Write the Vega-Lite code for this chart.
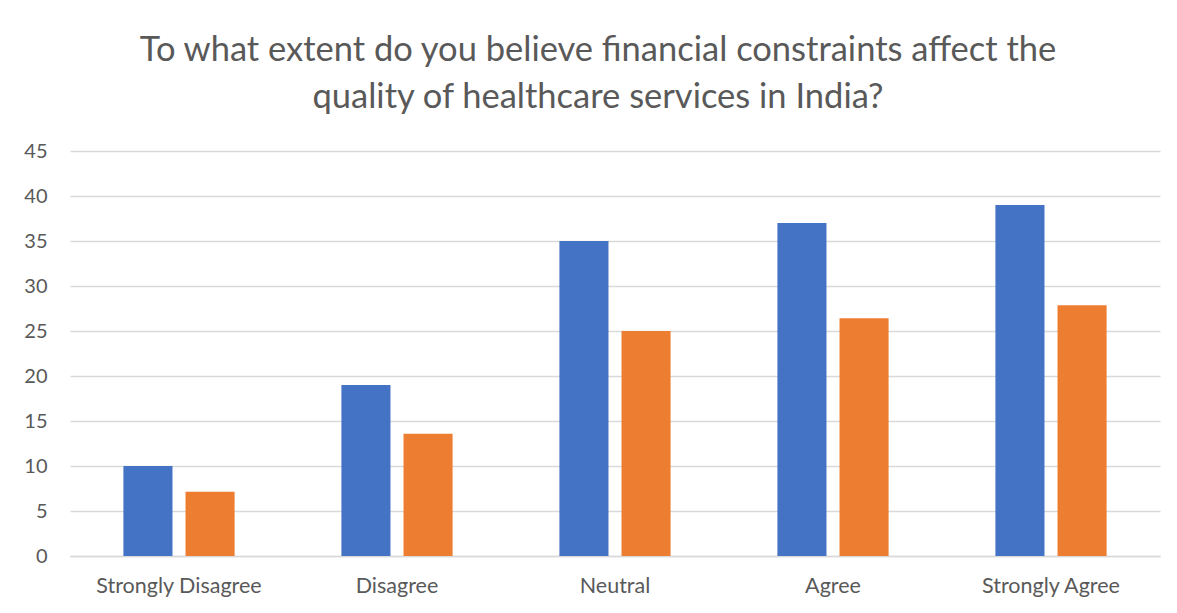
{
  "$schema": "https://vega.github.io/schema/vega-lite/v6.json",
  "width": 1090,
  "height": 405,
  "autosize": {"type": "none"},
  "padding": {"left": 70, "top": 151, "right": 17, "bottom": 57},
  "background": "white",
  "title": {
    "text": ["To what extent do you believe financial constraints affect the", "quality of healthcare services in India?"],
    "fontSize": 34.5,
    "font": "Lato",
    "fontWeight": "normal",
    "color": "#595959",
    "anchor": "middle",
    "lineHeight": 47,
    "offset": 26,
    "dx": -17
  },
  "data": {
    "values": [
      {"response": "Strongly Disagree", "series": "Series 1", "value": 10},
      {"response": "Strongly Disagree", "series": "Series 2", "value": 7.14},
      {"response": "Disagree", "series": "Series 1", "value": 19},
      {"response": "Disagree", "series": "Series 2", "value": 13.57},
      {"response": "Neutral", "series": "Series 1", "value": 35},
      {"response": "Neutral", "series": "Series 2", "value": 25},
      {"response": "Agree", "series": "Series 1", "value": 37},
      {"response": "Agree", "series": "Series 2", "value": 26.43},
      {"response": "Strongly Agree", "series": "Series 1", "value": 39},
      {"response": "Strongly Agree", "series": "Series 2", "value": 27.86}
    ]
  },
  "mark": {"type": "bar"},
  "encoding": {
    "x": {
      "field": "response",
      "type": "nominal",
      "sort": null,
      "title": null,
      "scale": {"paddingInner": 0.49, "paddingOuter": 0.245},
      "axis": {
        "labelAngle": 0,
        "labelFont": "Lato",
        "labelFontSize": 21.5,
        "labelColor": "#595959",
        "labelPadding": 19,
        "ticks": false,
        "domainColor": "#d9d9d9",
        "domainWidth": 1.5
      }
    },
    "xOffset": {
      "field": "series",
      "type": "nominal",
      "scale": {"paddingInner": 0.21}
    },
    "y": {
      "field": "value",
      "type": "quantitative",
      "title": null,
      "scale": {"domain": [0, 45], "nice": false},
      "axis": {
        "values": [0, 5, 10, 15, 20, 25, 30, 35, 40, 45],
        "labelFont": "Lato",
        "labelFontSize": 20,
        "labelColor": "#595959",
        "labelPadding": 23,
        "ticks": false,
        "domain": false,
        "gridColor": "#d9d9d9",
        "gridWidth": 1.5
      }
    },
    "color": {
      "field": "series",
      "type": "nominal",
      "scale": {"domain": ["Series 1", "Series 2"], "range": ["#4472c4", "#ed7d31"]},
      "legend": null
    }
  },
  "config": {"view": {"stroke": null}}
}
